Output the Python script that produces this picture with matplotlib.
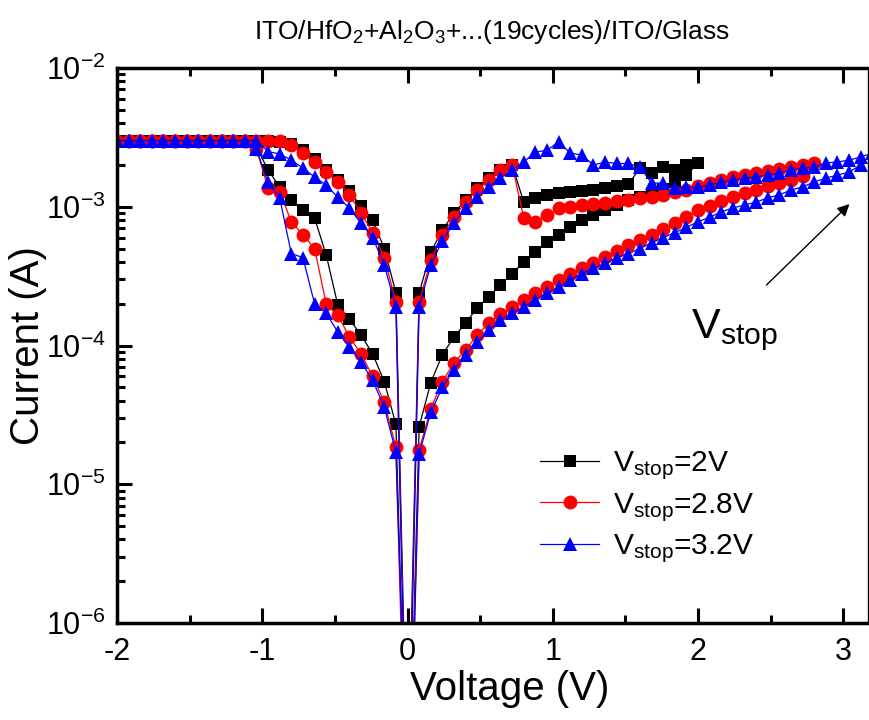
import numpy as np
import matplotlib
matplotlib.use("Agg")
import matplotlib.pyplot as plt
from matplotlib.ticker import LogLocator, MultipleLocator, NullFormatter

plt.rcParams['font.family'] = ['Liberation Sans', 'DejaVu Sans']
plt.rcParams['mathtext.fontset'] = 'custom'
plt.rcParams['mathtext.rm'] = 'Liberation Sans'
plt.rcParams['mathtext.it'] = 'Liberation Sans:italic'
plt.rcParams['mathtext.bf'] = 'Liberation Sans:bold'
plt.rcParams['axes.unicode_minus'] = False

# sweep voltages (V), 0.08 V step
V_NEG = [-0.08, -0.16, -0.24, -0.32, -0.40, -0.48, -0.56, -0.64, -0.72, -0.80,
         -0.88, -0.96, -1.04, -1.12, -1.20, -1.28, -1.36, -1.44, -1.52, -1.60,
         -1.68, -1.76, -1.84, -1.92, -2.00]
V_POS = [0.08, 0.16, 0.24, 0.32, 0.40, 0.48, 0.56, 0.64, 0.72, 0.80,
         0.88, 0.96, 1.04, 1.12, 1.20, 1.28, 1.36, 1.44, 1.52, 1.60,
         1.68, 1.76, 1.84, 1.92, 2.00, 2.08, 2.16, 2.24, 2.32, 2.40,
         2.48, 2.56, 2.64, 2.72, 2.80, 2.88, 2.96, 3.04, 3.12, 3.20]

# Vstop = 2 V  (currents in A)
I2_neg_out = [2.7e-5, 5.5e-5, 8.7e-5, 1.19e-4, 1.55e-4, 1.96e-4, 4.5e-4, 8.3e-4, 9.5e-4, 1.12e-3,
              1.39e-3, 1.84e-3, 2.7e-3, 3.0e-3, 3.0e-3, 3.0e-3, 3.0e-3, 3.0e-3, 3.0e-3, 3.0e-3,
              3.0e-3, 3.0e-3, 3.0e-3, 3.0e-3, 3.0e-3]
I2_neg_ret = [3.0e-3, 3.0e-3, 3.0e-3, 3.0e-3, 3.0e-3, 3.0e-3, 3.0e-3, 3.0e-3, 3.0e-3, 3.0e-3,
              3.0e-3, 3.0e-3, 3.0e-3, 2.95e-3, 2.85e-3, 2.55e-3, 2.2e-3, 1.85e-3, 1.57e-3, 1.3e-3,
              1.01e-3, 8.0e-4, 5.0e-4, 2.4e-4]
I2_pos_out = [2.4e-4, 4.7e-4, 6.8e-4, 9.0e-4, 1.12e-3, 1.36e-3, 1.6e-3, 1.85e-3, 2.0e-3,
              1.08e-3, 1.16e-3, 1.22e-3, 1.25e-3, 1.27e-3, 1.3e-3, 1.33e-3, 1.36e-3, 1.4e-3,
              1.45e-3, 1.9e-3, 1.75e-3, 1.95e-3, 1.85e-3, 2.0e-3, 2.05e-3]
I2_pos_ret = [1.7e-3, 1.5e-3, 1.35e-3, 1.25e-3, 1.18e-3, 1.12e-3, 1.03e-3, 9.5e-4, 8.7e-4, 8.0e-4,
              7.1e-4, 6.3e-4, 5.6e-4, 4.7e-4, 4.0e-4, 3.3e-4, 2.73e-4, 2.24e-4, 1.87e-4, 1.45e-4,
              1.15e-4, 8.6e-5, 5.4e-5, 2.6e-5]
I2_zero = [3e-8, 6e-8, 2e-8]

# Vstop = 2.8 V
I28_neg_out = [1.85e-5, 3.9e-5, 6.0e-5, 8.7e-5, 1.15e-4, 1.66e-4, 2.0e-4, 5.0e-4, 6.3e-4, 7.8e-4,
               1.28e-3, 1.36e-3, 2.6e-3, 3.0e-3, 3.0e-3, 3.0e-3, 3.0e-3, 3.0e-3, 3.0e-3, 3.0e-3,
               3.0e-3, 3.0e-3, 3.0e-3, 3.0e-3, 3.0e-3]
I28_neg_ret = [3.0e-3, 3.0e-3, 3.0e-3, 3.0e-3, 3.0e-3, 3.0e-3, 3.0e-3, 3.0e-3, 3.0e-3, 3.0e-3,
               3.0e-3, 3.0e-3, 3.0e-3, 3.0e-3, 2.79e-3, 2.44e-3, 2.1e-3, 1.78e-3, 1.51e-3, 1.22e-3,
               9.0e-4, 6.5e-4, 4.3e-4, 2.06e-4]
I28_pos_out = [2.06e-4, 4.1e-4, 6.3e-4, 8.4e-4, 1.08e-3, 1.32e-3, 1.56e-3, 1.84e-3, 2.0e-3,
               8.3e-4, 7.8e-4, 8.7e-4, 9.8e-4, 1.0e-3, 1.03e-3, 1.05e-3, 1.07e-3, 1.1e-3, 1.12e-3,
               1.15e-3, 1.18e-3, 1.22e-3, 1.27e-3, 1.33e-3, 1.4e-3, 1.48e-3, 1.56e-3, 1.63e-3,
               1.69e-3, 1.75e-3, 1.81e-3, 1.87e-3, 1.93e-3, 2.0e-3, 2.06e-3]
I28_pos_ret = [1.66e-3, 1.56e-3, 1.48e-3, 1.4e-3, 1.33e-3, 1.26e-3, 1.18e-3, 1.1e-3, 1.02e-3, 9.4e-4,
               8.5e-4, 7.6e-4, 6.9e-4, 6.3e-4, 5.8e-4, 5.3e-4, 4.8e-4, 4.35e-4, 3.95e-4, 3.6e-4,
               3.25e-4, 2.96e-4, 2.65e-4, 2.4e-4, 2.13e-4, 1.9e-4, 1.68e-4, 1.45e-4, 1.19e-4, 9.3e-5,
               7.5e-5, 5.5e-5, 3.5e-5, 1.77e-5]
I28_zero = [2e-8, 4e-8, 1.5e-8]

# Vstop = 3.2 V
I32_neg_out = [1.7e-5, 3.6e-5, 5.6e-5, 7.6e-5, 9.7e-5, 1.25e-4, 1.71e-4, 2.0e-4, 4.3e-4, 4.6e-4,
               1.16e-3, 1.5e-3, 2.6e-3, 3.0e-3, 3.0e-3, 3.0e-3, 3.0e-3, 3.0e-3, 3.0e-3, 3.0e-3,
               3.0e-3, 3.0e-3, 3.0e-3, 3.0e-3, 3.0e-3]
I32_neg_ret = [3.0e-3, 3.0e-3, 3.0e-3, 3.0e-3, 3.0e-3, 3.0e-3, 3.0e-3, 3.0e-3, 3.0e-3, 3.0e-3,
               3.0e-3, 3.0e-3, 2.5e-3, 2.4e-3, 2.17e-3, 1.9e-3, 1.64e-3, 1.43e-3, 1.17e-3, 9.8e-4,
               7.6e-4, 6.0e-4, 3.8e-4, 1.9e-4]
I32_pos_out = [1.9e-4, 3.8e-4, 5.7e-4, 7.6e-4, 9.8e-4, 1.17e-3, 1.39e-3, 1.61e-3, 1.84e-3, 2.1e-3,
               2.48e-3, 2.55e-3, 2.93e-3, 2.44e-3, 2.36e-3, 2.0e-3, 2.1e-3, 2.05e-3, 2.05e-3, 1.93e-3,
               1.48e-3, 1.48e-3, 1.36e-3, 1.38e-3, 1.38e-3, 1.44e-3, 1.5e-3, 1.56e-3, 1.6e-3, 1.64e-3,
               1.69e-3, 1.75e-3, 1.84e-3, 1.9e-3, 1.93e-3, 2.07e-3, 2.1e-3, 2.17e-3, 2.28e-3, 2.44e-3]
I32_pos_ret = [2.0e-3, 1.78e-3, 1.69e-3, 1.61e-3, 1.51e-3, 1.39e-3, 1.32e-3, 1.22e-3, 1.16e-3, 1.08e-3,
               1.03e-3, 9.8e-4, 9.2e-4, 8.4e-4, 7.8e-4, 7.1e-4, 6.5e-4, 6.0e-4, 5.5e-4, 5.0e-4,
               4.6e-4, 4.3e-4, 3.9e-4, 3.6e-4, 3.3e-4, 2.96e-4, 2.64e-4, 2.39e-4, 2.13e-4, 1.89e-4,
               1.71e-4, 1.53e-4, 1.29e-4, 1.06e-4, 8.5e-5, 6.7e-5, 5.0e-5, 3.3e-5, 1.65e-5]
I32_zero = [5e-8, 3e-8, 1e-8]


def sweep(n_pos, neg_out, neg_ret, pos_out, pos_ret, zero):
    # 0 -> -2 V -> 0 -> +Vstop -> 0
    v = ([0.0] + V_NEG + V_NEG[-2::-1] + [0.0]
         + V_POS[:n_pos] + V_POS[n_pos - 2::-1] + [0.0])
    i = [zero[0]] + neg_out + neg_ret + [zero[1]] + pos_out + pos_ret + [zero[2]]
    return np.array(v), np.array(i)


fig = plt.figure(figsize=(8.7, 7.2), dpi=100)
ax = fig.add_axes([117 / 870, 97 / 720, 751 / 870, 555 / 720])

curvas = [
    (sweep(25, I2_neg_out, I2_neg_ret, I2_pos_out, I2_pos_ret, I2_zero), 'k', 's', 8.8,
     r'V$_{\mathrm{stop}}$=2V'),
    (sweep(35, I28_neg_out, I28_neg_ret, I28_pos_out, I28_pos_ret, I28_zero), '#ff0000', 'o', 10,
     r'V$_{\mathrm{stop}}$=2.8V'),
    (sweep(40, I32_neg_out, I32_neg_ret, I32_pos_out, I32_pos_ret, I32_zero), '#0000ff', '^', 10.5,
     r'V$_{\mathrm{stop}}$=3.2V'),
]
for (v, i), col, mk, ms, lab in curvas:
    ax.plot(v, i, color=col, marker=mk, markersize=ms, markeredgewidth=0,
            linewidth=0.9, label=lab)

ax.set_yscale('log')
ax.set_xlim(-2, 3.17)
ax.set_ylim(1e-6, 1e-2)

ax.xaxis.set_major_locator(MultipleLocator(1))
ax.xaxis.set_minor_locator(MultipleLocator(0.5))
ax.yaxis.set_major_locator(LogLocator(base=10, numticks=10))
ax.yaxis.set_minor_locator(LogLocator(base=10, subs=np.arange(2, 10), numticks=10))
ax.yaxis.set_minor_formatter(NullFormatter())

ax.tick_params(which='major', direction='in', length=11, width=2.2, labelsize=22,
               top=True, right=False, pad=8)
ax.tick_params(which='minor', direction='in', length=6, width=2.2, top=True, right=False)
ax.tick_params(axis='x', which='major', top=True)
ax.tick_params(axis='x', which='major', pad=10)
for s in ['left', 'bottom', 'top']:
    ax.spines[s].set_linewidth(2.5)
ax.spines['right'].set_linewidth(1.0)
ax.set_xticklabels([], minor=True)

ax.set_xlabel('Voltage (V)', fontsize=29)
ax.set_ylabel('Current (A)', fontsize=29)
ax.xaxis.set_label_coords(0.523, -0.085)
ax.yaxis.set_label_coords(-0.093, 0.5)

fig.text(492 / 870, 1 - 32 / 720,
         r'ITO/HfO$_2$+Al$_2$O$_3$+...(19cycles)/ITO/Glass',
         fontsize=19, ha='center', va='center')

ax.annotate('', xy=(3.056, 1.08e-3), xytext=(2.457, 2.64e-4),
            arrowprops=dict(arrowstyle='-|>', color='k', lw=1.0, mutation_scale=18))
ax.text(2.25, 1.28e-4, r'V$_{\mathrm{stop}}$', fontsize=31, ha='center', va='center')

leg = ax.legend(loc='upper left', bbox_to_anchor=(0.535, 0.35), frameon=False,
                fontsize=21.5, handlelength=2.0, handletextpad=0.45, labelspacing=0.28,
                borderpad=0.2)

fig.savefig('out.png', dpi=100)
